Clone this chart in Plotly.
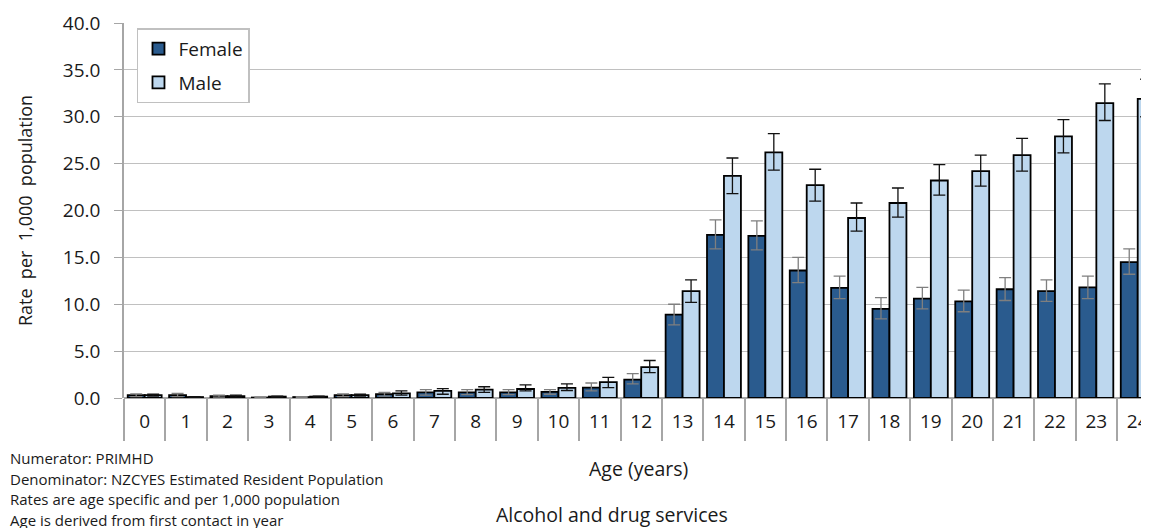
import plotly.graph_objects as go

ages = [str(a) for a in range(25)]

female = [0.3, 0.3, 0.2, 0.05, 0.1, 0.3, 0.4, 0.6, 0.6, 0.6, 0.65, 1.1, 1.95, 8.9, 17.4, 17.3,
          13.6, 11.75, 9.5, 10.6, 10.3, 11.6, 11.4, 11.8, 14.5]
female_hi = [0.45, 0.5, 0.3, 0.1, 0.15, 0.45, 0.6, 0.9, 0.9, 0.9, 0.9, 1.6, 2.6, 10.0, 19.0, 18.9,
             15.0, 13.0, 10.7, 11.8, 11.5, 12.85, 12.6, 13.0, 15.9]
female_lo = [0.15, 0.15, 0.1, 0.0, 0.05, 0.15, 0.2, 0.3, 0.35, 0.35, 0.4, 0.75, 1.5, 7.8, 15.9, 15.8,
             12.3, 10.6, 8.45, 9.5, 9.2, 10.4, 10.3, 10.6, 13.2]

male = [0.3, 0.1, 0.2, 0.15, 0.15, 0.3, 0.5, 0.75, 0.9, 0.96, 1.07, 1.7, 3.3, 11.4, 23.7, 26.2,
        22.7, 19.2, 20.8, 23.2, 24.2, 25.9, 27.9, 31.45, 31.9]
male_hi = [0.4, 0.15, 0.3, 0.2, 0.2, 0.4, 0.75, 1.0, 1.2, 1.4, 1.5, 2.2, 4.0, 12.6, 25.6, 28.2,
           24.4, 20.8, 22.4, 24.9, 25.9, 27.7, 29.7, 33.5, 34.0]
male_lo = [0.2, 0.05, 0.1, 0.1, 0.1, 0.2, 0.3, 0.4, 0.6, 0.75, 0.8, 1.1, 2.7, 10.2, 21.8, 24.3,
           21.0, 17.8, 19.3, 21.65, 22.6, 24.2, 26.15, 29.6, 30.0]

notes = [
    "Numerator: PRIMHD",
    "Denominator: NZCYES Estimated Resident Population",
    "Rates are age specific and per 1,000 population",
    "Age is derived from first contact in year",
]

FONT = "Open Sans"
TXT = "#1a1a1a"


def err(v, hi, lo, color):
    return dict(type="data", symmetric=False,
                array=[h - x for h, x in zip(hi, v)],
                arrayminus=[x - l for l, x in zip(lo, v)],
                color=color, thickness=1.3, width=6)


fig = go.Figure()
fig.add_trace(go.Bar(
    x=ages, y=female, name="Female", legendgroup="f",
    marker=dict(color="#2A5B8E", line=dict(color="black", width=1.8)),
    error_y=err(female, female_hi, female_lo, "#7f7f7f"),
))
fig.add_trace(go.Bar(
    x=ages, y=male, name="Male", legendgroup="m",
    marker=dict(color="#BDD7EE", line=dict(color="black", width=1.8)),
    error_y=err(male, male_hi, male_lo, "#111111"),
))

# page body has an 8px margin, so positions are kept relative to the plot area
anns = []
for text, px, py in [("Age (years)", 640, 468), ("Alcohol and drug services", 613, 514)]:
    anns.append(dict(text=text, xref="paper", yref="paper",
                     x=(px - 124) / 1025, y=-(py - 398) / 375,
                     xanchor="center", yanchor="middle", showarrow=False,
                     font=dict(family=FONT, size=19.5, color=TXT)))
for i, line in enumerate(notes):
    anns.append(dict(text=line, xref="paper", yref="paper",
                     x=(8 - 124) / 1025, y=-(458 + i * 20.7 - 398) / 375,
                     xanchor="left", yanchor="middle", showarrow=False,
                     font=dict(family=FONT, size=15, color=TXT)))

fig.update_layout(
    width=1141, height=520,
    margin=dict(l=116, r=0, t=15, b=130),
    plot_bgcolor="white", paper_bgcolor="white",
    barmode="group", bargap=0.18, bargroupgap=0,
    font=dict(family=FONT, color=TXT),
    showlegend=True,
    legend=dict(x=0.0127, y=0.986, xanchor="left", yanchor="top",
                bgcolor="white", bordercolor="#c0c0c0", borderwidth=1.5,
                font=dict(size=19), itemwidth=30, tracegroupgap=6),
    annotations=anns,
    xaxis=dict(
        type="category", range=[-0.5, 24.2],
        showline=False, showgrid=False, zeroline=False,
        ticks="outside", tickson="boundaries", ticklen=42,
        tickcolor="#a6a6a6", tickwidth=1.5,
        ticklabelstandoff=10,
        tickfont=dict(size=19, color=TXT),
    ),
    yaxis=dict(
        range=[0, 40], dtick=5, tickformat=".1f",
        showgrid=True, gridcolor="#c0c0c0", gridwidth=1.3,
        showline=True, linecolor="#a6a6a6", linewidth=1.5,
        zeroline=True, zerolinecolor="#a6a6a6", zerolinewidth=1.5,
        ticks="outside", ticklen=8, tickcolor="#a6a6a6", tickwidth=1.3,
        ticklabelstandoff=10,
        tickfont=dict(size=19, color=TXT),
        title=dict(text="Rate\u00a0 per\u00a0 1,000\u00a0 population", standoff=26,
                   font=dict(size=18, color=TXT)),
    ),
)

fig.write_html("out.html")
